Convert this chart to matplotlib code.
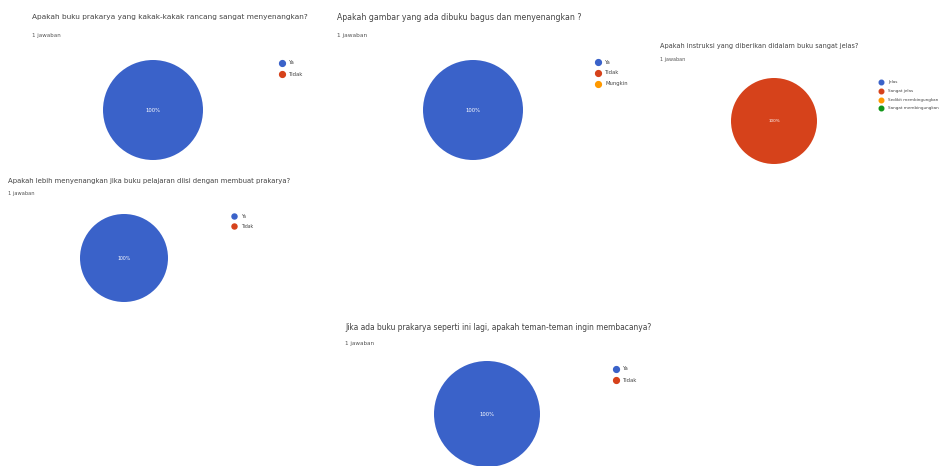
import matplotlib
matplotlib.use("Agg")
import matplotlib.pyplot as plt
from matplotlib.lines import Line2D

W, H = 945, 466

COLORS = ["#3a62c9", "#d6421b", "#ff9900", "#109618"]

# data per chart (Google Forms summary, 1 jawaban each)
titles = [
    "Apakah buku prakarya yang kakak-kakak rancang sangat menyenangkan?",
    "Apakah gambar yang ada dibuku bagus dan menyenangkan ?",
    "Apakah instruksi yang diberikan didalam buku sangat jelas?",
    "Apakah lebih menyenangkan jika buku pelajaran diisi dengan membuat prakarya?",
    "Jika ada buku prakarya seperti ini lagi, apakah teman-teman ingin membacanya?",
]
legend_labels = [
    ["Ya", "Tidak"],
    ["Ya", "Tidak", "Mungkin"],
    ["Jelas", "Sangat jelas", "Sedikit membingungkan", "Sangat membingungkan"],
    ["Ya", "Tidak"],
    ["Ya", "Tidak"],
]
counts = [
    [1, 0],
    [1, 0, 0],
    [0, 1, 0, 0],
    [1, 0],
    [1, 0],
]
subtitle = "1 jawaban"

# layout in pixels: title pos, pie center + radius, legend pos, font sizes
layout = [
    dict(title=(32, 17), sub=(32, 35), pie=(153, 110, 50), leg=(282, 63, 11), fs=5.3, lfs=3.8),
    dict(title=(337, 17), sub=(337, 35), pie=(473, 110, 50), leg=(598, 62, 11), fs=5.6, lfs=3.8),
    dict(title=(660, 46), sub=(660, 59), pie=(774, 121, 43), leg=(881, 82, 8.8), fs=4.7, lfs=3.0),
    dict(title=(8, 181), sub=(8, 194), pie=(124, 258, 44), leg=(234, 216, 10), fs=4.95, lfs=3.3),
    dict(title=(345, 327), sub=(345, 343), pie=(487, 414, 53), leg=(616, 369, 11), fs=5.45, lfs=3.8),
]


def fx(x):
    return x / W


def fy(y):
    return 1 - y / H


fig = plt.figure(figsize=(W / 100, H / 100), dpi=100)
fig.patch.set_facecolor("white")

for title, labels, vals, lay in zip(titles, legend_labels, counts, layout):
    fig.text(fx(lay["title"][0]), fy(lay["title"][1]), title, fontsize=lay["fs"],
             color="#444444", va="center", ha="left")
    fig.text(fx(lay["sub"][0]), fy(lay["sub"][1]), subtitle, fontsize=lay["fs"] * 0.75,
             color="#555555", va="center", ha="left")

    cx, cy, r = lay["pie"]
    ax = fig.add_axes([fx(cx - r), fy(cy + r), 2 * r / W, 2 * r / H])
    ax.pie(vals, colors=COLORS[:len(vals)], startangle=90, counterclock=False,
           autopct=lambda p: f"{p:.0f}%" if p > 0 else "",
           textprops=dict(color="white", fontsize=lay["lfs"]),
           pctdistance=0.0, wedgeprops=dict(linewidth=0))
    ax.set_xlim(-1, 1)
    ax.set_ylim(-1, 1)
    ax.set_aspect("equal")
    ax.axis("off")

    lx, ly, step = lay["leg"]
    for i, lab in enumerate(labels):
        yy = ly + i * step
        fig.add_artist(Line2D([fx(lx)], [fy(yy)], marker="o", markersize=lay["lfs"] * 1.1,
                              color=COLORS[i], linestyle="none", transform=fig.transFigure))
        fig.text(fx(lx + 7), fy(yy), lab, fontsize=lay["lfs"], color="#444444",
                 va="center", ha="left")

fig.savefig("out.png", dpi=100, facecolor="white")
